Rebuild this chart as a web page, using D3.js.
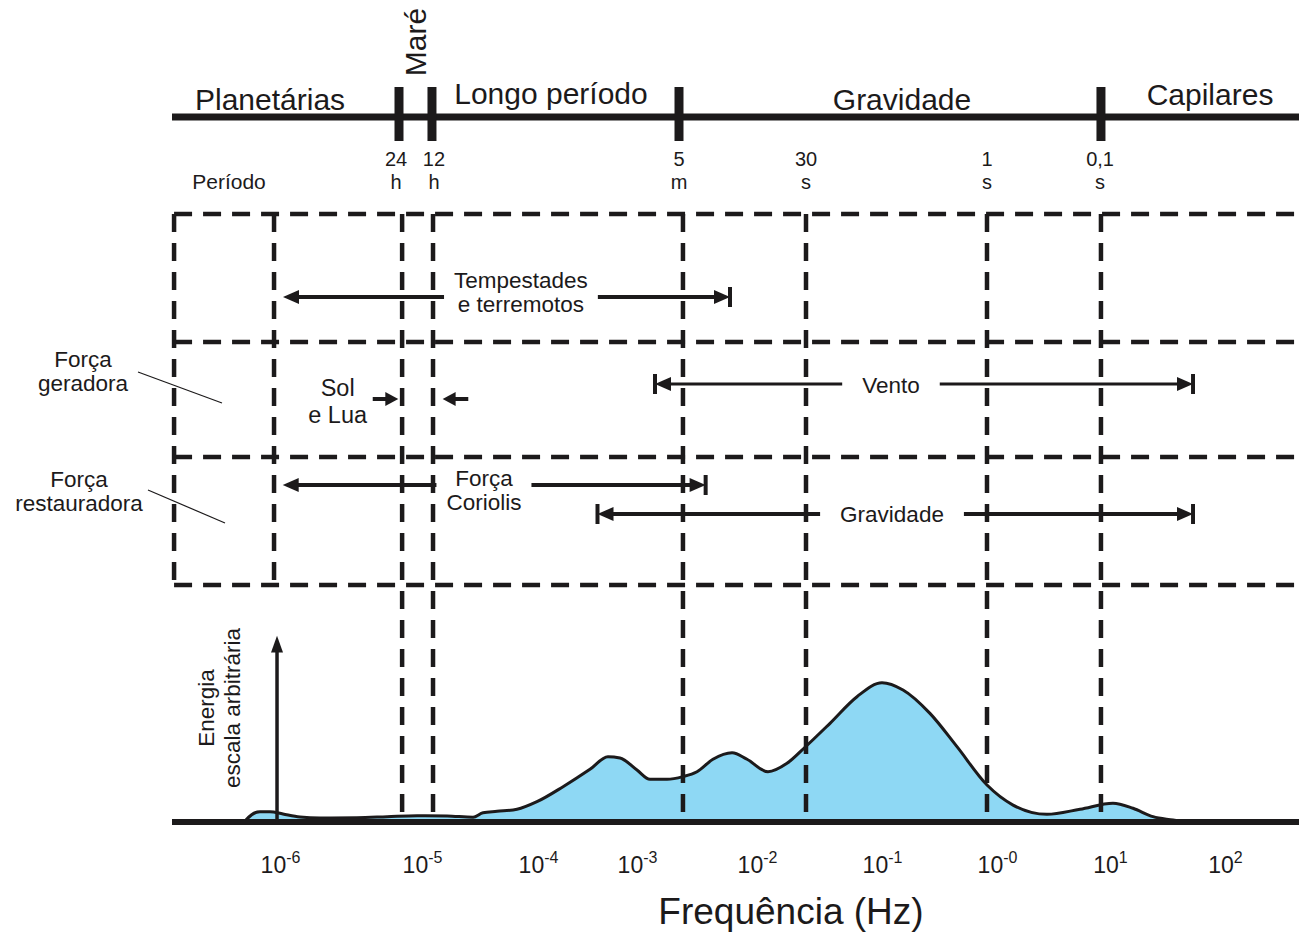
<!DOCTYPE html>
<html>
<head>
<meta charset="utf-8">
<script src="https://cdn.jsdelivr.net/npm/d3@7"></script>
<style>
body { margin: 0; background: #fff; }
svg { display: block; font-family: "Liberation Sans", Arial, sans-serif; }
</style>
</head>
<body>
<div id="chart"></div>
<script>
// frequency axis: log10(Hz) and tick labels
const tickExps = [-6, -5, -4, -3, -2, -1, 0, 1, 2];
const tickSup = ["-6", "-5", "-4", "-3", "-2", "-1", "-0", "1", "2"];

// energy spectrum (arbitrary scale)
const specLogF = [-6.25, -6.235, -6.141, -6.07, -5.979, -5.859, -5.718, -5.458, -5.246, -5.035,
  -4.784, -4.56, -4.474, -4.353, -4.181, -4.009, -3.747, -3.475, -3.293, -3.172,
  -3.0, -2.892, -2.75, -2.617, -2.5, -2.367, -2.208, -2.083, -1.912, -1.76,
  -1.616, -1.416, -1.2, -1.0, -0.817, -0.583, -0.348, -0.087, 0.142, 0.442,
  0.735, 1.026, 1.2, 1.374, 1.548, 1.652];
const specEnergy = [0, 1.9, 7.4, 7.4, 5.7, 3.6, 2.9, 3.1, 3.8, 4.5,
  4.3, 3.4, 6.6, 7.6, 9.1, 14.5, 25.2, 37.6, 46.6, 45.7,
  37.1, 30.5, 30.5, 32.4, 35.9, 44.8, 49.5, 44.8, 35.9, 41.9,
  53.4, 70.5, 89.5, 99.5, 94.3, 77.6, 53.8, 26.4, 12.1, 5.5,
  9.1, 13.4, 9.8, 3.8, 1.4, 0];

// wave types on the top bar
const bandNames = ["Planetárias", "Longo período", "Gravidade", "Capilares"];
const bandLabelLogF = [-6.07, -3.869, -0.826, 1.87];
const bandEdges = [-5.162, -4.914, -2.65, 0.92];

// periods
const periodNum = ["24", "12", "5", "30", "1", "0,1"];
const periodUnit = ["h", "h", "m", "s", "s", "s"];
const periodLabelLogF = [-5.183, -4.897, -2.65, -1.608, -0.087, 0.912];
const periodLineLogF = [-5.14, -4.905, -2.617, -1.608, -0.087, 0.92];
const boxLineLogF = [-6.746, -6.042];

// forces (frequency ranges)
const forceLabels = [["Tempestades", "e terremotos"], ["Vento"], ["Força", "Coriolis"], ["Gravidade"]];
const forceFrom = [-5.979, -2.85, -5.981, -3.399];
const forceTo = [-2.225, 1.722, -2.428, 1.722];
const forceCenter = [-4.147, -0.922, -4.466, -0.913];
const forceBars = [[false, true], [true, true], [false, true], [true, true]];
const tideTail = [-5.347, -4.601];
const tideTip = [-5.167, -4.822];

const W = 1299, H = 933;
const ink = "#1c1a1b";
const blue = "#8ed8f4";

const svg = d3.select("#chart").append("svg")
  .attr("width", W).attr("height", H);

const x = d3.scaleLinear().domain(tickExps).range([280, 422, 538, 637, 757, 882, 997, 1110, 1225]);
const y = d3.scaleLinear().domain([0, 100]).range([822, 682]);

const spec = specLogF.map((f, i) => ({f: f, e: specEnergy[i]}));

// filled spectrum
svg.append("path")
  .datum(spec)
  .attr("fill", blue)
  .attr("d", d3.area().x(d => x(d.f)).y0(y(0)).y1(d => y(d.e)).curve(d3.curveMonotoneX));

// dashed grid
const rowLines = [214, 342, 457, 585];
const dash = "18,11";
svg.selectAll(".hgrid").data(rowLines).join("line")
  .attr("x1", x(boxLineLogF[0])).attr("x2", W)
  .attr("y1", d => d).attr("y2", d => d)
  .attr("stroke", ink).attr("stroke-width", 4.5).attr("stroke-dasharray", dash);

svg.selectAll(".boxv").data(boxLineLogF).join("line")
  .attr("x1", d => x(d)).attr("x2", d => x(d))
  .attr("y1", 214).attr("y2", 585)
  .attr("stroke", ink).attr("stroke-width", 4.5).attr("stroke-dasharray", dash);

svg.selectAll(".perv").data(periodLineLogF).join("line")
  .attr("x1", d => x(d)).attr("x2", d => x(d))
  .attr("y1", 214).attr("y2", 822)
  .attr("stroke", ink).attr("stroke-width", 4.5).attr("stroke-dasharray", dash);

// spectrum outline
svg.append("path")
  .datum(spec)
  .attr("fill", "none")
  .attr("stroke", ink)
  .attr("stroke-width", 3)
  .attr("d", d3.line().x(d => x(d.f)).y(d => y(d.e)).curve(d3.curveMonotoneX));

// bottom axis
svg.append("line")
  .attr("x1", 172).attr("x2", W).attr("y1", 822).attr("y2", 822)
  .attr("stroke", ink).attr("stroke-width", 6);

const ax = svg.append("g")
  .attr("transform", "translate(0,822)")
  .call(d3.axisBottom(x).tickValues(tickExps).tickSize(0).tickFormat(""));
ax.select(".domain").remove();
ax.selectAll(".tick text")
  .attr("y", 51).attr("dy", 0)
  .attr("fill", ink)
  .style("font-size", "23px")
  .style("font-family", "Liberation Sans, Arial, sans-serif")
  .each(function(d, i) {
    const t = d3.select(this);
    t.append("tspan").text("10");
    t.append("tspan").attr("dy", -10).style("font-size", "16px").text(tickSup[i]);
  });

svg.append("text")
  .attr("x", 791).attr("y", 924)
  .attr("text-anchor", "middle")
  .attr("fill", ink)
  .style("font-size", "37px")
  .text("Frequência (Hz)");

// energy arrow + label
const ex = x(-6.021);
svg.append("line")
  .attr("x1", ex).attr("x2", ex).attr("y1", y(0)).attr("y2", y(122))
  .attr("stroke", ink).attr("stroke-width", 3.5);
svg.append("path")
  .attr("d", `M${ex},${y(133)}L${ex - 6},${y(121)}L${ex + 6},${y(121)}Z`)
  .attr("fill", ink);
svg.append("text")
  .attr("transform", "translate(214,708) rotate(-90)")
  .attr("text-anchor", "middle").attr("fill", ink)
  .style("font-size", "22.5px").text("Energia");
svg.append("text")
  .attr("transform", "translate(240,708) rotate(-90)")
  .attr("text-anchor", "middle").attr("fill", ink)
  .style("font-size", "22.5px").text("escala arbitrária");

// top bar
svg.append("line")
  .attr("x1", 172).attr("x2", W).attr("y1", 117).attr("y2", 117)
  .attr("stroke", ink).attr("stroke-width", 7);
svg.selectAll(".edge").data(bandEdges).join("line")
  .attr("x1", d => x(d)).attr("x2", d => x(d))
  .attr("y1", 87).attr("y2", 141)
  .attr("stroke", ink).attr("stroke-width", 9);

const bandY = [110, 104, 110, 105];
svg.selectAll(".band").data(bandNames).join("text")
  .attr("x", (d, i) => x(bandLabelLogF[i]))
  .attr("y", (d, i) => bandY[i])
  .attr("text-anchor", "middle").attr("fill", ink)
  .style("font-size", "30px")
  .text(d => d);

svg.append("text")
  .attr("transform", `translate(${(x(bandEdges[0]) + x(bandEdges[1])) / 2 + 11},42) rotate(-90)`)
  .attr("text-anchor", "middle").attr("fill", ink)
  .style("font-size", "30px")
  .text("Maré");

// period labels
svg.append("text")
  .attr("x", 229).attr("y", 189)
  .attr("text-anchor", "middle").attr("fill", ink)
  .style("font-size", "21px").text("Período");
svg.selectAll(".pnum").data(periodNum).join("text")
  .attr("x", (d, i) => x(periodLabelLogF[i])).attr("y", 166)
  .attr("text-anchor", "middle").attr("fill", ink)
  .style("font-size", "20px").text(d => d);
svg.selectAll(".punit").data(periodUnit).join("text")
  .attr("x", (d, i) => x(periodLabelLogF[i])).attr("y", 189)
  .attr("text-anchor", "middle").attr("fill", ink)
  .style("font-size", "20px").text(d => d);

// row labels on the left
function rowLabel(cx, base, lines, size) {
  lines.forEach((l, i) => {
    svg.append("text")
      .attr("x", cx).attr("y", base + i * 24)
      .attr("text-anchor", "middle").attr("fill", ink)
      .style("font-size", (size || 22.5) + "px").text(l);
  });
}
rowLabel(83, 367, ["Força", "geradora"]);
rowLabel(79, 487, ["Força", "restauradora"]);
svg.append("line").attr("x1", 138).attr("y1", 372).attr("x2", 222).attr("y2", 403)
  .attr("stroke", ink).attr("stroke-width", 1.2);
svg.append("line").attr("x1", 148).attr("y1", 490).attr("x2", 225).attr("y2", 523)
  .attr("stroke", ink).attr("stroke-width", 1.2);

// arrow helpers
function head(tip, yy, dir, len, hw, bar) {
  svg.append("path")
    .attr("d", `M${tip},${yy}L${tip - dir * len},${yy - hw}L${tip - dir * len},${yy + hw}Z`)
    .attr("fill", ink);
  if (bar) {
    svg.append("line")
      .attr("x1", tip).attr("x2", tip).attr("y1", yy - 10).attr("y2", yy + 10)
      .attr("stroke", ink).attr("stroke-width", 4);
  }
}
function seg(a, b, yy, w) {
  svg.append("line").attr("x1", a).attr("x2", b).attr("y1", yy).attr("y2", yy)
    .attr("stroke", ink).attr("stroke-width", w);
}

// force arrows
const forceY = [297, 384, 485, 514];
const forceBase = [288, 393, 486, 522];
const forceW = [4, 3, 4, 4];
forceLabels.forEach((lines, i) => {
  const cx = x(forceCenter[i]);
  let maxW = 0;
  lines.forEach((l, j) => {
    const t = svg.append("text")
      .attr("x", cx).attr("y", forceBase[i] + j * 24)
      .attr("text-anchor", "middle").attr("fill", ink)
      .style("font-size", "22.5px").text(l);
    maxW = Math.max(maxW, t.node().getComputedTextLength());
  });
  const pad = lines.length > 1 ? 10 : 20;
  const x0 = x(forceFrom[i]), x1 = x(forceTo[i]);
  seg(x0 + 6, cx - maxW / 2 - pad, forceY[i], forceW[i]);
  seg(cx + maxW / 2 + pad, x1 - 6, forceY[i], forceW[i]);
  head(x0, forceY[i], -1, 16, 7, forceBars[i][0]);
  head(x1, forceY[i], 1, 16, 7, forceBars[i][1]);
});

// Sol e Lua (tides)
rowLabel(x(-5.594), 396, ["Sol"], 23.5);
rowLabel(x(-5.594), 423, ["e Lua"], 23.5);
tideTail.forEach((t, i) => {
  const a = x(t), b = x(tideTip[i]);
  const dir = b > a ? 1 : -1;
  seg(a, b - dir * 8, 399, 4);
  head(b, 399, dir, 13, 7, false);
});
</script>
</body>
</html>
